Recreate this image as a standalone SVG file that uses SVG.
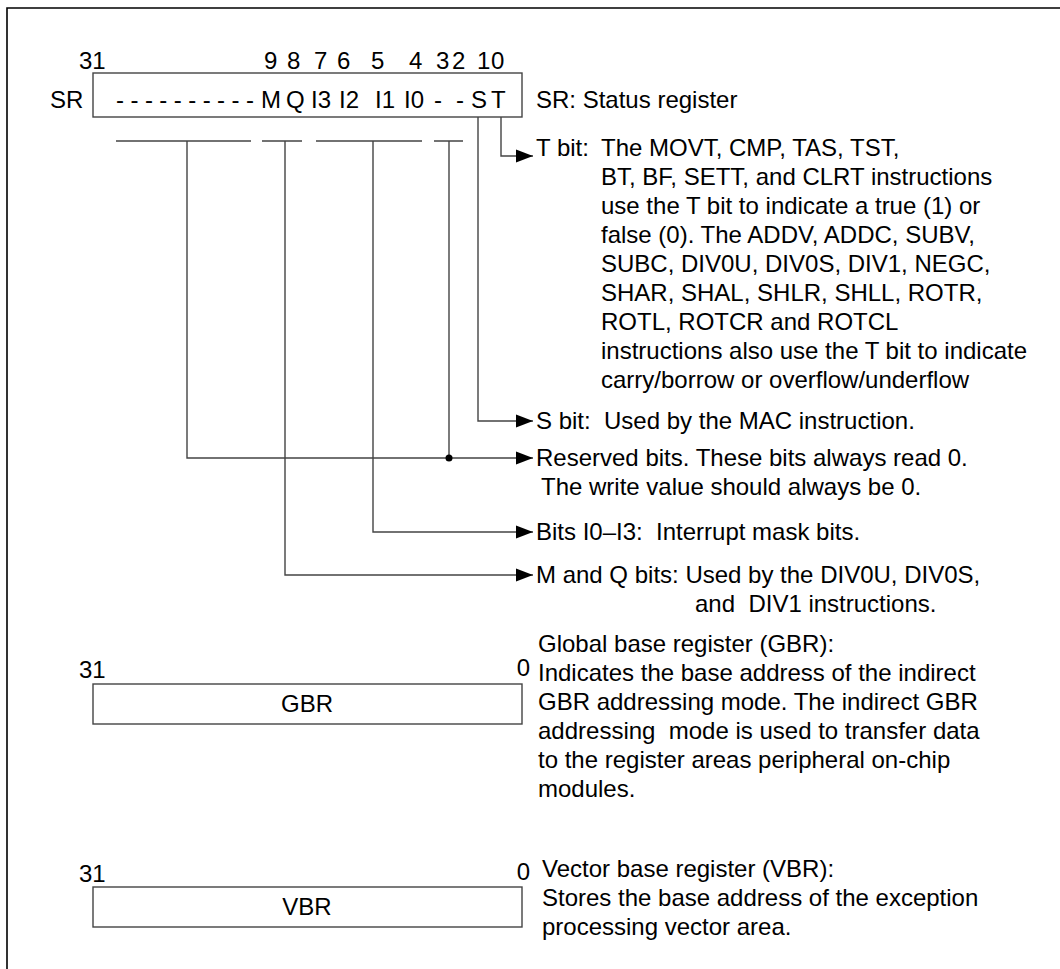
<svg xmlns="http://www.w3.org/2000/svg" width="1060" height="969" viewBox="0 0 1060 969">
<defs>
<marker id="arr" markerUnits="userSpaceOnUse" markerWidth="18" markerHeight="14" refX="17" refY="7" orient="auto">
<path d="M0,0.5 L17,7 L0,13.5 Z" fill="#000"/>
</marker>
<style>
text{font-family:"Liberation Sans",Arial,sans-serif;font-size:24px;fill:#000;white-space:pre}
.box{fill:#fff;stroke:#444;stroke-width:1.4}
.ln{fill:none;stroke:#444;stroke-width:1.4}
.ar{fill:none;stroke:#444;stroke-width:1.4;marker-end:url(#arr)}
.mid{text-anchor:middle}
</style>
</defs>
<rect width="1060" height="969" fill="#fff"/>
<path d="M7,969 L7,8 L1060,8" fill="none" stroke="#000" stroke-width="1.6"/>

<g id="sr">
<text x="50" y="108">SR</text>
<text x="79" y="69">31</text>
<text x="264" y="69">9</text>
<text x="287" y="69">8</text>
<text x="314" y="69">7</text>
<text x="337" y="69">6</text>
<text x="371" y="69">5</text>
<text x="409" y="69">4</text>
<text x="436" y="69">3</text>
<text x="452" y="69">2</text>
<text x="477" y="69">1</text>
<text x="491" y="69">0</text>
<rect class="box" x="93" y="73" width="429" height="44"/>
<text x="116" y="108" textLength="138" lengthAdjust="spacing">- - - - - - - - - -</text>
<text x="261" y="108">M</text>
<text x="286" y="108">Q</text>
<text x="311" y="108">I3</text>
<text x="339" y="108">I2</text>
<text x="375" y="108">I1</text>
<text x="404" y="108">I0</text>
<text x="434" y="108">-</text>
<text x="456" y="108">-</text>
<text x="471" y="108">S</text>
<text x="491" y="108">T</text>
<text x="536" y="108">SR: Status register</text>
</g>

<g id="connectors">
<path class="ln" d="M116,141 H251 M262,141 H302 M316,141 H422 M434,141 H463"/>
<path class="ar" d="M501,117 V156 H533"/>
<path class="ar" d="M478,117 V421 H533"/>
<path class="ar" d="M187,141 V458 H533"/>
<path class="ln" d="M449,141 V458"/>
<circle cx="449" cy="458" r="3.5" fill="#000"/>
<path class="ar" d="M373,141 V532 H533"/>
<path class="ar" d="M285,141 V575 H533"/>
</g>

<g id="t-bit">
<text x="536" y="156">T bit:</text>
<text x="601" y="156">The MOVT, CMP, TAS, TST,</text>
<text x="601" y="185">BT, BF, SETT, and CLRT instructions</text>
<text x="601" y="214">use the T bit to indicate a true (1) or</text>
<text x="601" y="243">false (0). The ADDV, ADDC, SUBV,</text>
<text x="601" y="272">SUBC, DIV0U, DIV0S, DIV1, NEGC,</text>
<text x="601" y="301">SHAR, SHAL, SHLR, SHLL, ROTR,</text>
<text x="601" y="330">ROTL, ROTCR and ROTCL</text>
<text x="601" y="359">instructions also use the T bit to indicate</text>
<text x="601" y="388">carry/borrow or overflow/underflow</text>
</g>

<g id="s-bit">
<text x="536" y="429">S bit:  Used by the MAC instruction.</text>
</g>

<g id="reserved">
<text x="536" y="466">Reserved bits. These bits always read 0.</text>
<text x="541" y="495">The write value should always be 0.</text>
</g>

<g id="i-bits">
<text x="536" y="540">Bits I0–I3:  Interrupt mask bits.</text>
</g>

<g id="mq-bits">
<text x="536" y="583">M and Q bits: Used by the DIV0U, DIV0S,</text>
<text x="695" y="612">and  DIV1 instructions.</text>
</g>

<g id="gbr">
<text x="79" y="678">31</text>
<text x="530" y="676" text-anchor="end">0</text>
<rect class="box" x="93" y="684" width="429" height="40"/>
<text class="mid" x="307" y="712">GBR</text>
<text x="538" y="652">Global base register (GBR):</text>
<text x="538" y="681">Indicates the base address of the indirect</text>
<text x="538" y="710">GBR addressing mode. The indirect GBR</text>
<text x="538" y="739">addressing  mode is used to transfer data</text>
<text x="538" y="768">to the register areas peripheral on-chip</text>
<text x="538" y="797">modules.</text>
</g>

<g id="vbr">
<text x="79" y="882">31</text>
<text x="530" y="880" text-anchor="end">0</text>
<rect class="box" x="93" y="887" width="429" height="40"/>
<text class="mid" x="307" y="915">VBR</text>
<text x="542" y="877">Vector base register (VBR):</text>
<text x="542" y="906">Stores the base address of the exception</text>
<text x="542" y="935">processing vector area.</text>
</g>
</svg>
